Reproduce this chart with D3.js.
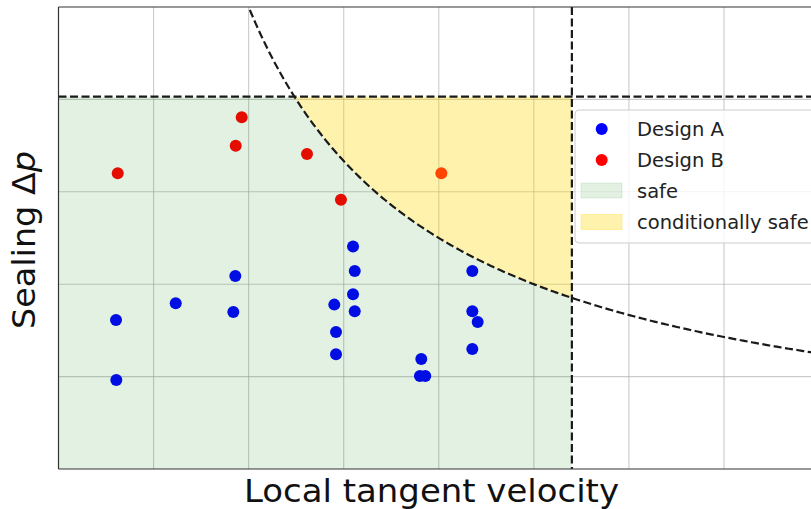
<!DOCTYPE html>
<html><head><meta charset="utf-8">
<script src="https://cdn.jsdelivr.net/npm/d3@7"></script>
<style>html,body{margin:0;padding:0;background:#fff;overflow:hidden}svg{display:block;font-family:"DejaVu Sans",sans-serif}</style>
</head><body>
<svg id="chart" width="811" height="509"></svg>
<script>
// ---- data ----
const designA_x = [0.605,0.608,1.233,1.860,1.839,3.098,3.116,3.098,3.116,2.901,2.919,2.919,4.353,4.353,4.409,4.353,3.816,3.802,3.858];
const designA_y = [1.613,0.964,1.794,2.090,1.700,2.407,2.144,1.892,1.708,1.779,1.483,1.242,2.144,1.708,1.592,1.299,1.191,1.007,1.007];
const designB_x = [0.623,1.927,1.864,2.614,2.971,4.027];
const designB_y = [3.202,3.808,3.498,3.408,2.913,3.202];
const velocityLimit = [5.40];     // vertical dashed limit
const pressureLimit = [4.03];     // horizontal dashed limit
const curveConstant = [10.0];     // boundary: Δp · v = const
const xGridTicks = [1,2,3,4,5,6,7,8];
const yGridTicks = [1,2,3,4];
const legendLabels = ["Design A","Design B","safe","conditionally safe"];

// ---- layout ----
const svg = d3.select("#chart");
const x = d3.scaleLinear().domain([0,9]).range([58.5, 58.5 + 9*95.07]);
const y = d3.scaleLinear().domain([0,5]).range([469, 7]);
const x0 = x(0), y0 = y(0), yTop = y(5);

svg.append("clipPath").attr("id","plotclip").append("rect")
  .attr("x",x0).attr("y",yTop).attr("width",x(9)-x0).attr("height",y0-yTop);
const plot = svg.append("g").attr("clip-path","url(#plotclip)");

// grid
plot.selectAll("line.vg").data(xGridTicks).join("line").attr("class","vg")
  .attr("x1",d=>x(d)).attr("x2",d=>x(d)).attr("y1",yTop).attr("y2",y0)
  .attr("stroke","#a8a8a8").attr("stroke-opacity",0.6).attr("stroke-width",1.1);
plot.selectAll("line.hg").data(yGridTicks).join("line").attr("class","hg")
  .attr("y1",d=>y(d)).attr("y2",d=>y(d)).attr("x1",x0).attr("x2",x(9))
  .attr("stroke","#a8a8a8").attr("stroke-opacity",0.6).attr("stroke-width",1.1);

// points
const A = designA_x.map((v,i)=>({x:v,y:designA_y[i]}));
const B = designB_x.map((v,i)=>({x:v,y:designB_y[i]}));
plot.selectAll("circle.a").data(A).join("circle").attr("class","a")
  .attr("cx",d=>x(d.x)).attr("cy",d=>y(d.y)).attr("r",6).attr("fill","#0000ff");
plot.selectAll("circle.b").data(B).join("circle").attr("class","b")
  .attr("cx",d=>x(d.x)).attr("cy",d=>y(d.y)).attr("r",6).attr("fill","#ff0000");

// regions
const K = curveConstant[0], vL = velocityLimit[0], pL = pressureLimit[0];
const xc = K / pL;
const nS = 120;
const safePts = [[0,0],[0,pL],[xc,pL]];
for (let i=1;i<=nS;i++){ const xv = xc + (vL-xc)*i/nS; safePts.push([xv, K/xv]); }
safePts.push([vL,0]);
const condPts = [[xc,pL],[vL,pL]];
for (let i=0;i<=nS;i++){ const xv = vL - (vL-xc)*i/nS; condPts.push([xv, K/xv]); }
const poly = d3.line().x(d=>x(d[0])).y(d=>y(d[1]));
plot.append("path").attr("d",poly(safePts)+"Z").attr("fill","#008000").attr("fill-opacity",0.11);
plot.append("path").attr("d",poly(condPts)+"Z").attr("fill","#ffd700").attr("fill-opacity",0.32);

// dashed lines
const dash = "8,3.5";
const curvePts = [];
for (let i=0;i<=300;i++){ const xv = K/5.2 + (9.5-K/5.2)*i/300; curvePts.push([xv,K/xv]); }
plot.append("path").attr("d",poly(curvePts)).attr("fill","none")
  .attr("stroke","#1a1a1a").attr("stroke-width",2.2).attr("stroke-dasharray",dash);
plot.append("line").attr("x1",x0).attr("x2",x(9)).attr("y1",y(pL)).attr("y2",y(pL))
  .attr("stroke","#1a1a1a").attr("stroke-width",2.2).attr("stroke-dasharray",dash);
svg.append("line").attr("x1",x(vL)).attr("x2",x(vL)).attr("y1",yTop).attr("y2",y0)
  .attr("stroke","#1a1a1a").attr("stroke-width",2.2).attr("stroke-dasharray",dash);

// spines
svg.append("line").attr("x1",x0).attr("x2",x0).attr("y1",yTop).attr("y2",y0).attr("stroke","#333").attr("stroke-width",1.2);
svg.append("line").attr("x1",x0).attr("x2",x(9)).attr("y1",y0).attr("y2",y0).attr("stroke","#333").attr("stroke-width",1.2);
svg.append("line").attr("x1",x0).attr("x2",x(9)).attr("y1",yTop).attr("y2",yTop).attr("stroke","#333").attr("stroke-width",1.2);

// axis labels
svg.append("text").attr("x",431.5).attr("y",502).attr("text-anchor","middle")
  .attr("font-size",32).attr("fill","#111")
  .attr("textLength",375).attr("lengthAdjust","spacingAndGlyphs")
  .text("Local tangent velocity");
const yl = svg.append("text").attr("transform","translate(35,240) rotate(-90)")
  .attr("text-anchor","middle").attr("font-size",32).attr("fill","#111")
  .attr("textLength",178).attr("lengthAdjust","spacingAndGlyphs");
yl.append("tspan").text("Sealing Δ");
yl.append("tspan").attr("font-style","italic").text("p");

// legend
const lg = svg.append("g");
lg.append("rect").attr("x",575).attr("y",110).attr("width",260).attr("height",133).attr("rx",4)
  .attr("fill","#fff").attr("fill-opacity",0.8).attr("stroke","#cccccc").attr("stroke-width",1);
const rowsY = [129,160,190.5,222];
lg.append("circle").attr("cx",601.7).attr("cy",rowsY[0]).attr("r",6).attr("fill","#0000ff");
lg.append("circle").attr("cx",601.7).attr("cy",rowsY[1]).attr("r",6).attr("fill","#ff0000");
lg.append("rect").attr("x",581).attr("y",rowsY[2]-7.5).attr("width",41).attr("height",15)
  .attr("fill","#008000").attr("fill-opacity",0.11).attr("stroke","#008000").attr("stroke-opacity",0.1);
lg.append("rect").attr("x",581).attr("y",rowsY[3]-7.5).attr("width",41).attr("height",15)
  .attr("fill","#ffd700").attr("fill-opacity",0.32).attr("stroke","#ffd700").attr("stroke-opacity",0.3);
lg.selectAll("text").data(legendLabels).join("text")
  .attr("x",637).attr("y",(d,i)=>rowsY[i]).attr("dy","0.36em")
  .attr("font-size",19.5).attr("fill","#222").text(d=>d);
</script>
</body></html>
